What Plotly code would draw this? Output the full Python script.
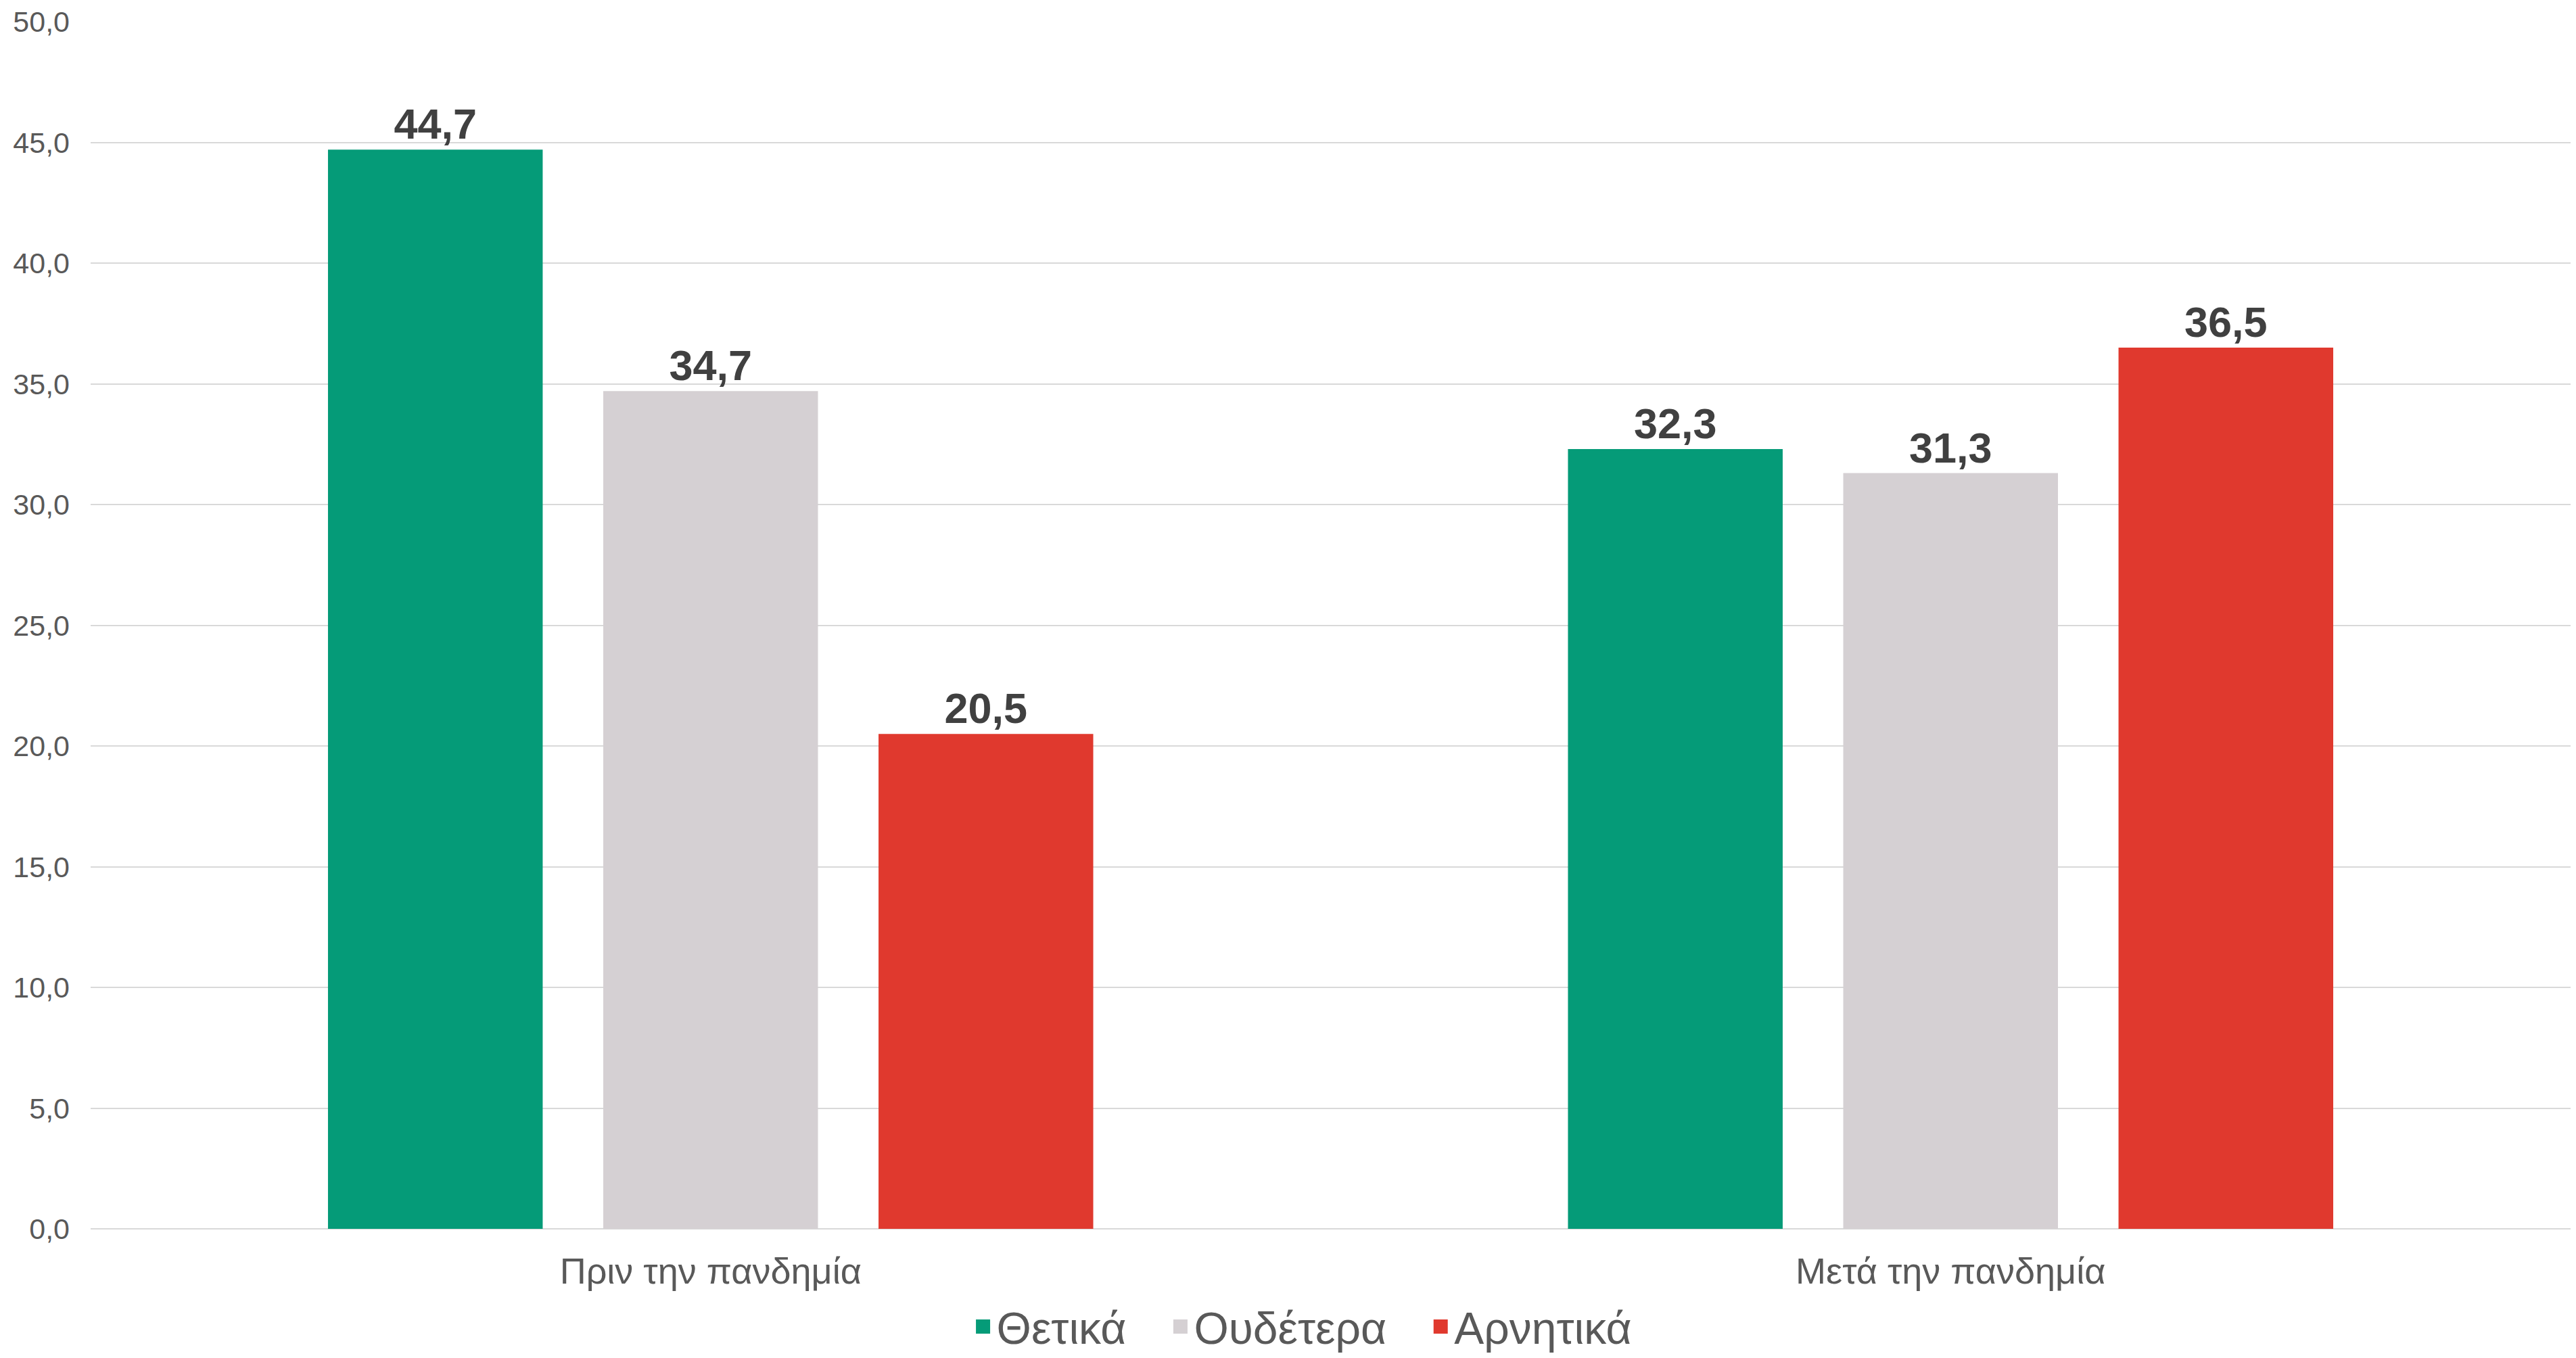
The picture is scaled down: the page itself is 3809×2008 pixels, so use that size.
import plotly.graph_objects as go

categories = ["Πριν την πανδημία", "Μετά την πανδημία"]
series_names = ["Θετικά", "Ουδέτερα", "Αρνητικά"]
positive = [44.7, 32.3]
neutral = [34.7, 31.3]
negative = [20.5, 36.5]
colors = ["#059B78", "#D5D0D3", "#E0392E"]
tick_values = [0, 5, 10, 15, 20, 25, 30, 35, 40, 45, 50]

FONT = "Arial, Liberation Sans, sans-serif"
NBSP = "\u00a0"

fig = go.Figure()
for name, vals, col in zip(series_names, [positive, neutral, negative], colors):
    fig.add_trace(go.Bar(
        x=categories, y=vals, name=name,
        marker=dict(color=col, line=dict(width=0)),
        texttemplate="%{y:.1f}", textposition="outside",
        textfont=dict(family=FONT, size=63, color="#404040", weight="bold"),
        cliponaxis=False, showlegend=False, legendgroup=name,
    ))
# legend entries with larger square swatches
for i, (name, col) in enumerate(zip(series_names, colors)):
    pad = NBSP * 3 if i < len(series_names) - 1 else ""
    fig.add_trace(go.Scatter(
        x=[categories[0]], y=[None], name=name + pad, mode="markers",
        marker=dict(symbol="square", size=16, color=col, line=dict(color=col, width=5)),
        showlegend=True, legendgroup=name, hoverinfo="skip",
    ))

fig.update_layout(
    width=3793, height=1992,
    margin=dict(l=126, r=0, t=24, b=183, autoexpand=False),
    paper_bgcolor="white", plot_bgcolor="white",
    separators=",.",
    barmode="group", bargap=0.334, bargroupgap=0.22,
    font=dict(family=FONT, color="#595959"),
    legend=dict(orientation="h", x=0.4887, xanchor="center",
                y=-0.081, yanchor="middle",
                font=dict(family=FONT, size=66, color="#595959"),
                itemwidth=30, traceorder="normal", tracegroupgap=0),
    xaxis=dict(showgrid=False, showline=False, ticks="", automargin=False,
               ticklabelstandoff=26,
               tickfont=dict(family=FONT, size=54, color="#595959")),
    yaxis=dict(range=[0, 50], tickvals=tick_values, tickformat=".1f",
               showgrid=True, gridcolor="#D9D9D9", gridwidth=2,
               zeroline=True, zerolinecolor="#D9D9D9", zerolinewidth=2,
               showline=False, ticks="", automargin=False,
               ticklabelstandoff=30,
               tickfont=dict(family=FONT, size=43, color="#595959")),
)

fig.write_html("out.html")
